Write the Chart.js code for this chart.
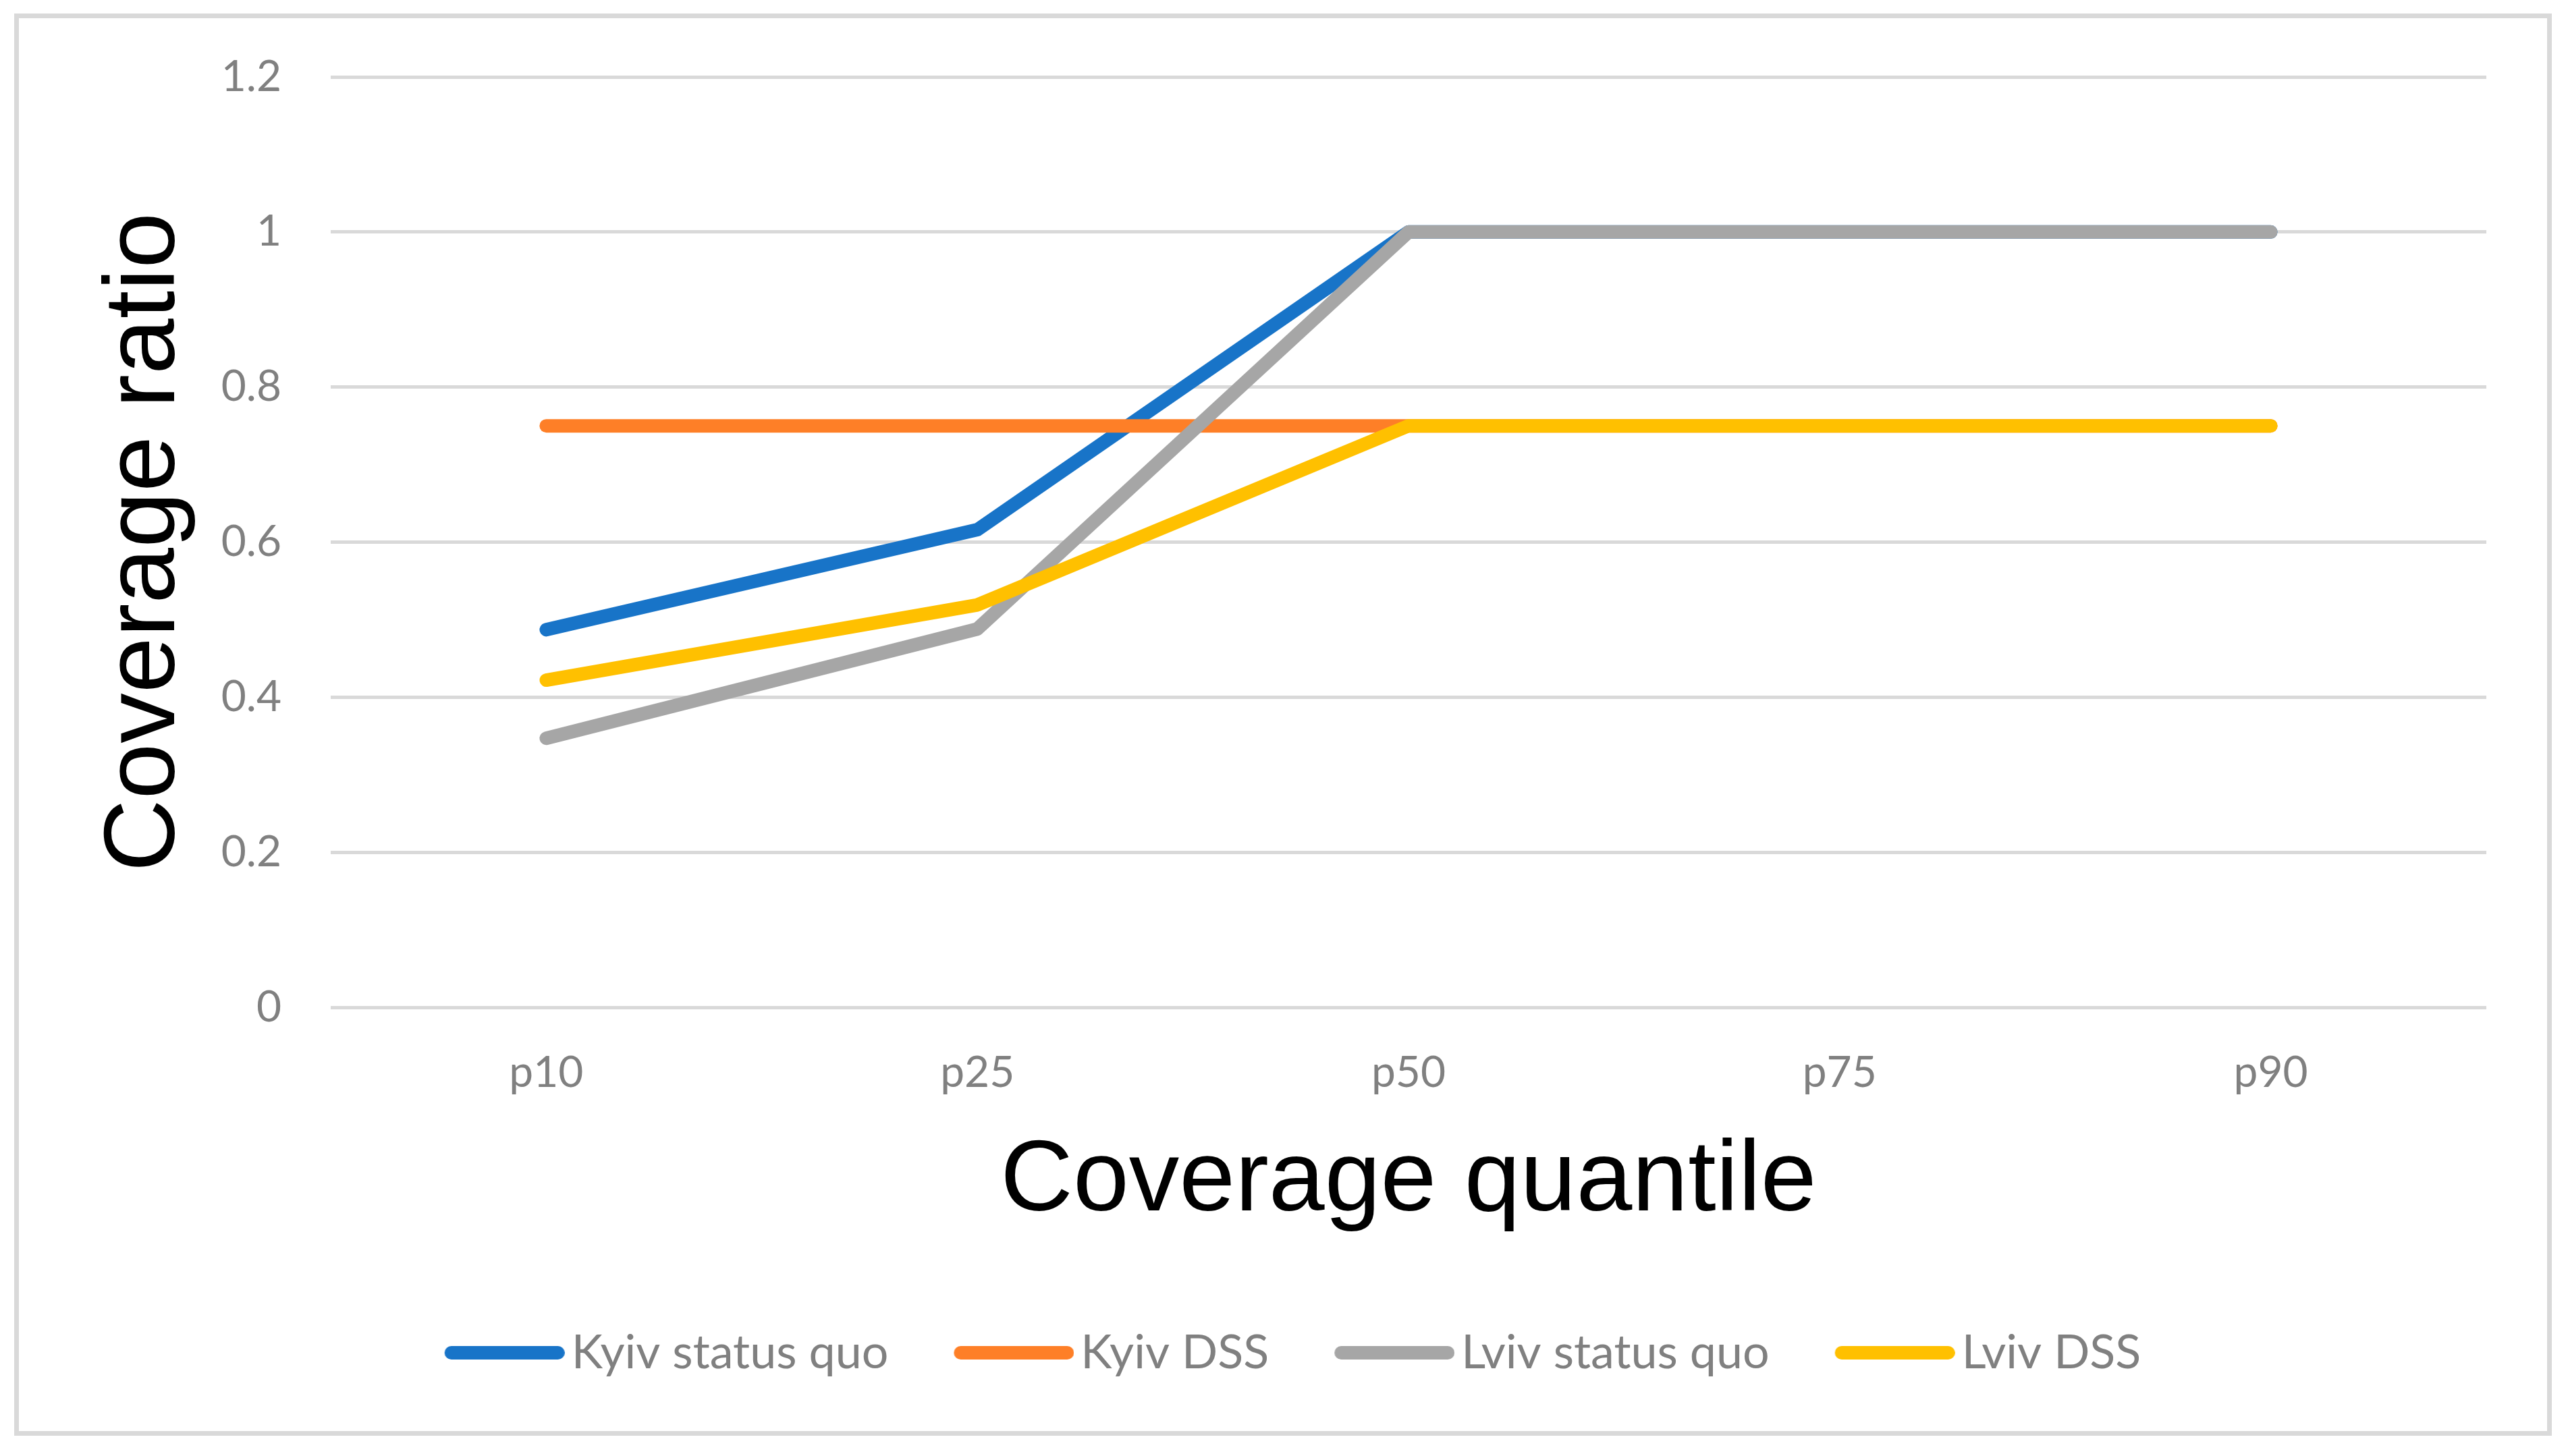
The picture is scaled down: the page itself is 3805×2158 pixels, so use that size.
<!DOCTYPE html>
<html>
<head>
<meta charset="utf-8">
<script src="https://cdn.jsdelivr.net/npm/chart.js@4.4.0/dist/chart.umd.min.js"></script>
<style>
    html, body { margin: 0; padding: 0; background: #fff; overflow: hidden; }
    #wrap { position: relative; width: 3805px; height: 2158px; }
    #marco { position: absolute; left: 21px; top: 20px; width: 3760px; height: 2108px;
             border: 7px solid #d9d9d9; box-sizing: border-box; pointer-events: none; }
    #lineChart { position: absolute; left: 0; top: 0; }
</style>
</head>
<body>
<div id="wrap">
    <canvas id="lineChart" width="3805" height="2158"></canvas>
    <div id="marco"></div>
</div>
<script>
// datos
var categorias    = ['p10', 'p25', 'p50', 'p75', 'p90'];
var kyivStatusQuo = [0.487, 0.616, 1, 1, 1];
var kyivDSS       = [0.75, 0.75, 0.75, 0.75, 0.75];
var lvivStatusQuo = [0.347, 0.488, 1, 1, 1];
var lvivDSS       = [0.422, 0.519, 0.75, 0.75, 0.75];
var yTickLabels   = ['0', '0.2', '0.4', '0.6', '0.8', '1', '1.2'];

function serie(label, datos, color, orden) {
    return {
        label : label,
        data : datos,
        borderColor : color,
        backgroundColor : color,
        borderWidth : 20,
        borderCapStyle : 'round',
        borderJoinStyle : 'round',
        pointRadius : 0,
        tension : 0,
        fill : false,
        order : orden
    };
}

// muestra de la leyenda: linea gruesa corrida a la derecha, pegada al texto
function muestraLeyenda(color) {
    var c = document.createElement('canvas');
    c.width = 208;
    c.height = 20;
    var ctx = c.getContext('2d');
    ctx.strokeStyle = color;
    ctx.lineWidth = 20;
    ctx.lineCap = 'round';
    ctx.beginPath();
    ctx.moveTo(40, 10);
    ctx.lineTo(198, 10);
    ctx.stroke();
    return c;
}

function loadChartData() {
    var lineData = {
        labels : categorias,
        datasets : [
            serie('Kyiv status quo', kyivStatusQuo, '#1874c8', 4),
            serie('Kyiv DSS', kyivDSS, '#fe7f27', 3),
            serie('Lviv status quo', lvivStatusQuo, '#a6a6a6', 2),
            serie('Lviv DSS', lvivDSS, '#ffc000', 1)
        ]
    };
    var lineOptions = {
        responsive : false,
        animation : false,
        devicePixelRatio : 1,
        layout : { padding : { left : 142, top : 114, right : 121, bottom : 108 } },
        plugins : {
            tooltip : { enabled : false },
            legend : {
                position : 'bottom',
                labels : {
                    usePointStyle : true,
                    pointStyleWidth : 158,
                    padding : 92,
                    color : '#808080',
                    font : { family : 'Lato', size : 70 },
                    generateLabels : function (chart) {
                        return chart.data.datasets.map(function (ds, i) {
                            return {
                                text : ds.label,
                                datasetIndex : i,
                                fillStyle : ds.borderColor,
                                strokeStyle : ds.borderColor,
                                lineWidth : 0,
                                pointStyle : muestraLeyenda(ds.borderColor),
                                fontColor : '#808080',
                                hidden : false
                            };
                        });
                    }
                }
            }
        },
        scales : {
            x : {
                offset : true,
                grid : { display : false, drawTicks : false },
                border : { display : false },
                ticks : { color : '#808080', padding : 59, font : { family : 'Lato', size : 64 } },
                title : {
                    display : true,
                    text : 'Coverage quantile',
                    color : '#000',
                    font : { family : 'Liberation Sans', size : 149, lineHeight : 1 },
                    padding : { top : 0, bottom : 51 }
                },
                afterFit : function (scale) { scale.height = 385; }
            },
            y : {
                min : 0,
                max : 1.2,
                grid : { color : '#d9d9d9', lineWidth : 5, drawTicks : false },
                border : { display : false },
                ticks : {
                    stepSize : 0.2,
                    color : '#808080',
                    padding : 73,
                    font : { family : 'Lato', size : 64 },
                    callback : function (v, idx) { return yTickLabels[idx]; }
                },
                title : {
                    display : true,
                    text : 'Coverage ratio',
                    color : '#000',
                    font : { family : 'Liberation Sans', size : 149, lineHeight : 1 },
                    padding : 0
                },
                afterFit : function (scale) { scale.width = 348; }
            }
        }
    };
    var lineChartCanvas = document.getElementById('lineChart').getContext('2d');
    var lineChart = new Chart(lineChartCanvas, {
        type : 'line',
        data : lineData,
        options : lineOptions
    });
}

loadChartData();
</script>
</body>
</html>
